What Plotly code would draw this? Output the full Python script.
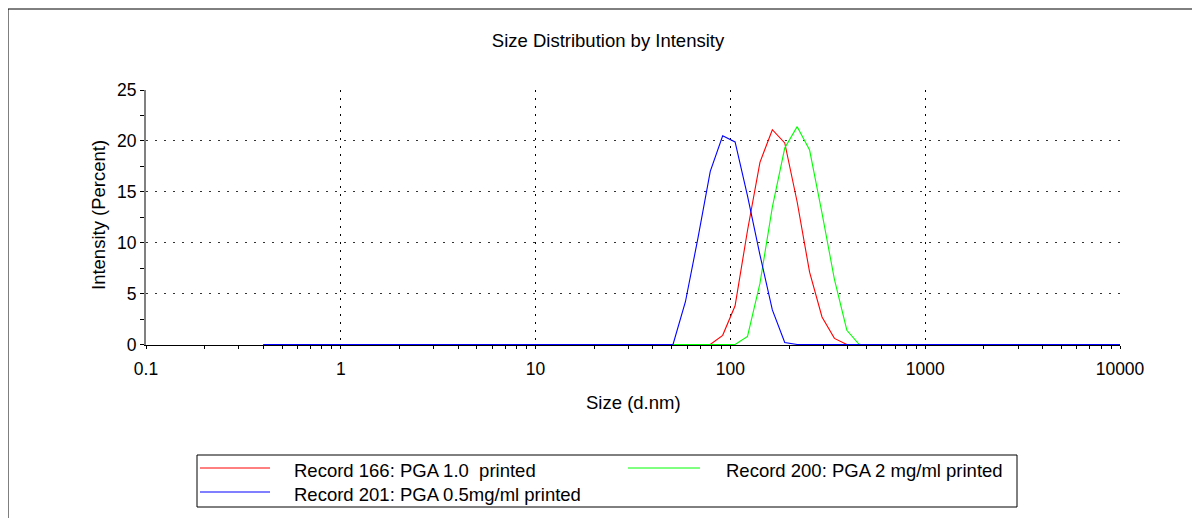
import plotly.graph_objects as go

# Size bins (d.nm)
sizes_nm = [0.4, 0.4632, 0.5365, 0.6213, 0.7195, 0.8332, 0.9649, 1.117, 1.294, 1.499,
            1.736, 2.01, 2.328, 2.696, 3.122, 3.615, 4.187, 4.849, 5.615, 6.503,
            7.531, 8.721, 10.1, 11.7, 13.54, 15.69, 18.17, 21.04, 24.36, 28.21,
            32.67, 37.84, 43.82, 50.75, 58.77, 68.06, 78.82, 91.28, 105.7, 122.4,
            141.8, 164.2, 190.1, 220.2, 255.0, 295.3, 342.0, 396.1, 458.7, 531.2,
            615.1, 712.4, 825.0, 955.4, 1106, 1281, 1484, 1718, 1990, 2305,
            2669, 3091, 3580, 4145, 4801, 5560, 6439, 7456, 8635, 10000]

# Intensity (Percent)
record_166 = [0, 0, 0, 0, 0, 0, 0, 0, 0, 0,
              0, 0, 0, 0, 0, 0, 0, 0, 0, 0,
              0, 0, 0, 0, 0, 0, 0, 0, 0, 0,
              0, 0, 0, 0, 0, 0, 0, 0.9, 3.8, 11.2,
              17.9, 21.1, 19.8, 14.0, 7.1, 2.7, 0.6, 0, 0, 0,
              0, 0, 0, 0, 0, 0, 0, 0, 0, 0,
              0, 0, 0, 0, 0, 0, 0, 0, 0, 0]
record_200 = [0, 0, 0, 0, 0, 0, 0, 0, 0, 0,
              0, 0, 0, 0, 0, 0, 0, 0, 0, 0,
              0, 0, 0, 0, 0, 0, 0, 0, 0, 0,
              0, 0, 0, 0, 0, 0, 0, 0, 0, 0.8,
              6.0, 13.5, 19.3, 21.4, 19.1, 12.9, 6.4, 1.4, 0, 0,
              0, 0, 0, 0, 0, 0, 0, 0, 0, 0,
              0, 0, 0, 0, 0, 0, 0, 0, 0, 0]
record_201 = [0, 0, 0, 0, 0, 0, 0, 0, 0, 0,
              0, 0, 0, 0, 0, 0, 0, 0, 0, 0,
              0, 0, 0, 0, 0, 0, 0, 0, 0, 0,
              0, 0, 0, 0, 4.2, 10.4, 17.0, 20.5, 19.9, 14.6,
              8.8, 3.4, 0.2, 0, 0, 0, 0, 0, 0, 0,
              0, 0, 0, 0, 0, 0, 0, 0, 0, 0,
              0, 0, 0, 0, 0, 0, 0, 0, 0, 0]

series_names = ["Record 166: PGA 1.0  printed",
                "Record 200: PGA 2 mg/ml printed",
                "Record 201: PGA 0.5mg/ml printed"]
series_colors = ["#ff0000", "#00ff00", "#0000ff"]
series_values = [record_166, record_200, record_201]

x_tick_vals = [0.1, 1, 10, 100, 1000, 10000]
x_tick_text = ["0.1", "1", "10", "100", "1000", "10000"]
x_minor_vals = [m * d for d in [0.1, 1, 10, 100, 1000] for m in range(2, 10)]

FONT = "Liberation Sans, Arial, sans-serif"

fig = go.Figure()
for name, color, vals in zip(series_names, series_colors, series_values):
    fig.add_trace(go.Scatter(x=sizes_nm, y=vals, mode="lines", name=name,
                             line=dict(color=color, width=1.1), showlegend=False))

# page has an 8px body margin; figure sized to fit the viewport
OFF = 8
W, H = 1200 - OFF, 518 - OFF
# plot area in screen coords: x 146..1120, y 90..345
L = 146 - OFF
R = W - (1120 - OFF)
T = 90 - OFF
B = H - (345 - OFF)
pw, ph = W - L - R, H - T - B


def px(xs):
    return (xs - OFF - L) / pw


def py(ys):
    return (H - B - (ys - OFF)) / ph


fig.update_layout(
    width=W, height=H,
    margin=dict(l=L, r=R, t=T, b=B),
    paper_bgcolor="white", plot_bgcolor="white",
    font=dict(family=FONT, size=18, color="black"),
    title=dict(text="Size Distribution by Intensity", x=(608 - OFF) / W, xref="container",
               xanchor="center", y=1 - (41 - OFF) / H, yref="container", yanchor="middle",
               font=dict(family=FONT, size=18.5, color="black")),
    xaxis=dict(type="log", range=[-1, 4], tickmode="array", tickvals=x_tick_vals,
               ticktext=x_tick_text, ticks="outside", ticklen=3, tickcolor="black",
               ticklabelstandoff=5,
               showline=True, linecolor="black", linewidth=1,
               showgrid=True, gridcolor="black", gridwidth=1, griddash="2px,6px",
               zeroline=False, layer="below traces",
               tickfont=dict(family=FONT, size=17.5, color="black"),
               minor=dict(tickmode="array", tickvals=x_minor_vals, ticks="outside",
                          ticklen=3, tickcolor="black", showgrid=False)),
    yaxis=dict(range=[-0.05, 25], tickmode="array", tickvals=[0, 5, 10, 15, 20, 25],
               ticks="outside", ticklen=4, tickcolor="black",
               showline=True, linecolor="#808080", linewidth=2,
               showgrid=True, gridcolor="#333333", gridwidth=1, griddash="2px,7px",
               zeroline=False, layer="below traces",
               tickfont=dict(family=FONT, size=17.5, color="black"),
               minor=dict(tickmode="array", tickvals=[2.5, 7.5, 12.5, 17.5, 22.5],
                          ticks="outside", ticklen=4, tickcolor="black",
                          showgrid=False)),
)

annotations = [
    dict(text="Size (d.nm)", x=px(633), y=py(402), xref="paper", yref="paper",
         xanchor="center", yanchor="middle", showarrow=False,
         font=dict(family=FONT, size=18.5, color="black")),
    dict(text="Intensity (Percent)", x=px(98), y=py(215), xref="paper", yref="paper",
         xanchor="center", yanchor="middle", textangle=-90, showarrow=False,
         font=dict(family=FONT, size=18.5, color="black")),
]

shapes = [
    # outer frame
    dict(type="rect", xref="paper", yref="paper", x0=px(8), x1=px(1210),
         y0=py(540), y1=py(9), line=dict(color="black", width=1)),
    # legend box
    dict(type="rect", xref="paper", yref="paper", x0=px(197), x1=px(1017),
         y0=py(507), y1=py(455), line=dict(color="black", width=1)),
]

legend_pos = [(200, 270, 292, 470), (628, 700, 724, 470), (200, 270, 292, 494)]
for (lx0, lx1, tx, ty), name, color in zip(legend_pos, series_names, series_colors):
    shapes.append(dict(type="line", xref="paper", yref="paper", x0=px(lx0), x1=px(lx1),
                       y0=py(ty - 2), y1=py(ty - 2), line=dict(color=color, width=1)))
    annotations.append(dict(text=name, x=px(tx), y=py(ty), xref="paper", yref="paper",
                            xanchor="left", yanchor="middle", showarrow=False,
                            font=dict(family=FONT, size=18.5, color="black")))

fig.update_layout(annotations=annotations, shapes=shapes)

fig.write_html("out.html")
